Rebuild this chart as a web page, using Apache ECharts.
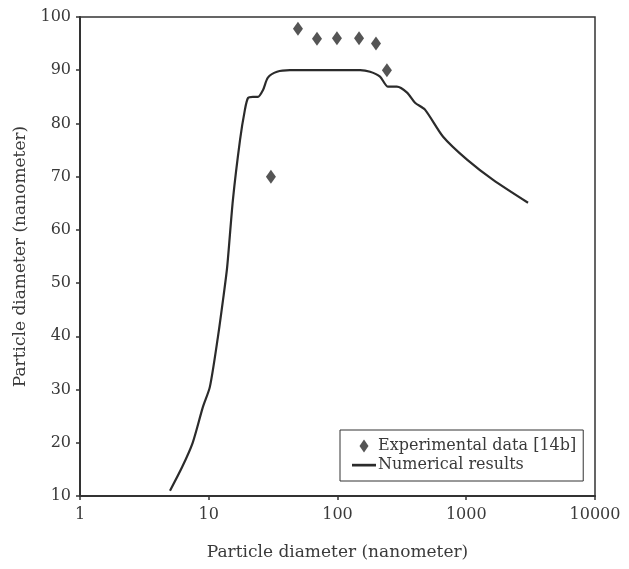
<!DOCTYPE html>
<html>
<head>
<meta charset="utf-8">
<script src="https://cdn.jsdelivr.net/npm/echarts@6/dist/echarts.min.js"></script>
<style>
html,body{margin:0;padding:0;background:#fff;}
#chart{width:629px;height:569px;}
</style>
</head>
<body>
<div id="chart"></div>
<script>
// Numerical results curve
const curveX = [5, 6.2, 7.5, 9, 10.2, 11.8, 12.9, 13.9, 15.4, 17.5, 19.1, 20.2, 22, 24.1, 26.4, 28.8, 33.9, 42.7, 60, 100, 150, 179, 214, 247, 289, 347, 400, 478, 661, 1014, 1617, 3019];
const curveY = [11, 15.4, 20, 26.7, 30.5, 40, 46.8, 53, 65.6, 76.9, 82.6, 84.8, 85, 85, 86.3, 88.6, 89.7, 90, 90, 90, 90, 89.7, 88.8, 86.9, 86.9, 85.8, 83.9, 82.6, 77.5, 73.2, 69.4, 65.1];
// Experimental data [14b]
const expX = [30.4, 49.3, 69.3, 99, 147, 199, 242];
const expY = [70, 97.8, 95.9, 96, 96, 95, 90];
const xTicks = [1, 10, 100, 1000, 10000];
const yTicks = [10, 20, 30, 40, 50, 60, 70, 80, 90, 100];

const FONT = 'DejaVu Serif';
const TXT = '#3a3a3a';
const INK = '#2b2b2b';
const chart = echarts.init(document.getElementById('chart'));
chart.setOption({
  animation: false,
  backgroundColor: '#fff',
  grid: { left: 80, right: 34, top: 17, bottom: 73, show: true, borderColor: '#333', borderWidth: 1.5 },
  xAxis: {
    type: 'log', logBase: 10, min: xTicks[0], max: xTicks[xTicks.length - 1],
    name: 'Particle diameter (nanometer)', nameLocation: 'middle', nameGap: 48,
    nameTextStyle: { fontFamily: FONT, fontSize: 17, color: TXT },
    axisLine: { lineStyle: { color: '#333', width: 2 } },
    axisTick: { show: true, length: 4, lineStyle: { color: '#333', width: 1.5 } },
    minorTick: { show: false },
    axisLabel: { fontFamily: FONT, fontSize: 16, color: TXT, margin: 11, formatter: v => String(v) },
    splitLine: { show: false }
  },
  yAxis: {
    type: 'value', min: yTicks[0], max: yTicks[yTicks.length - 1], interval: 10,
    name: 'Particle diameter (nanometer)', nameLocation: 'middle', nameGap: 43,
    nameTextStyle: { fontFamily: FONT, fontSize: 17, color: TXT },
    axisLine: { show: true, lineStyle: { color: '#333', width: 2 } },
    axisTick: { show: true, length: 4, lineStyle: { color: '#333', width: 1.5 } },
    axisLabel: { fontFamily: FONT, fontSize: 16, color: TXT, margin: 9 },
    splitLine: { show: false }
  },
  legend: {
    left: 340, top: 430, orient: 'vertical',
    borderColor: '#333', borderWidth: 1, borderRadius: 0,
    padding: [8, 7, 8, 12], itemGap: 3,
    itemWidth: 24, itemHeight: 13,
    textStyle: { fontFamily: FONT, fontSize: 16, color: TXT, padding: [0, 0, 0, -3] },
    data: [
      { name: 'Experimental data [14b]', icon: 'path://M0,0 L0,0 M12,0 L16.5,6.5 L12,13 L7.5,6.5 Z M24,13 L24,13', itemStyle: { color: INK } },
      { name: 'Numerical results', icon: 'path://M0,0 L0,0 M0,5.3 L24,5.3 L24,8 L0,8 Z M24,13 L24,13', itemStyle: { color: INK } }
    ]
  },
  series: [
    {
      name: 'Experimental data [14b]', type: 'scatter',
      symbol: 'diamond', symbolSize: [10, 14],
      itemStyle: { color: INK },
      data: expX.map((x, i) => [x, expY[i]])
    },
    {
      name: 'Numerical results', type: 'line',
      symbol: 'none', smooth: 0.25,
      lineStyle: { color: INK, width: 2.2 },
      itemStyle: { color: INK },
      data: curveX.map((x, i) => [x, curveY[i]])
    }
  ]
});
</script>
</body>
</html>
